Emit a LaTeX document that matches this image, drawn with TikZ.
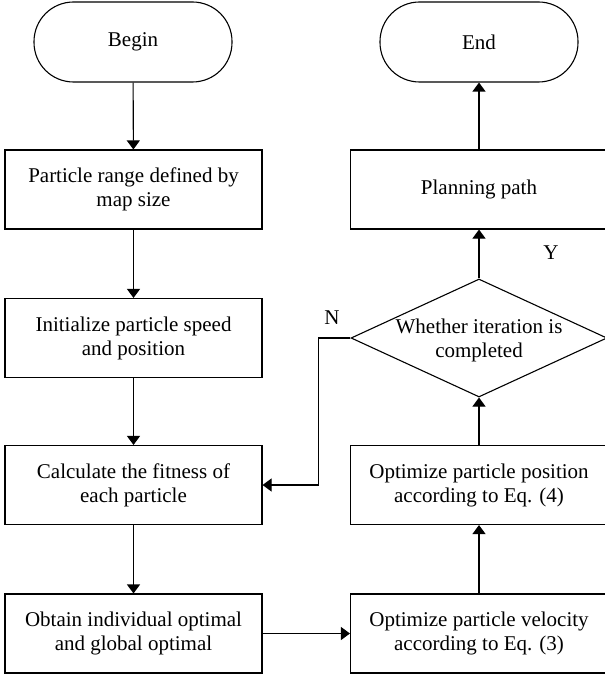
\documentclass[tikz,border=0pt]{standalone}
\usepackage{fontspec}
\setmainfont{Liberation Serif}
\usetikzlibrary{arrows.meta,shapes.geometric}

\begin{document}
\begin{tikzpicture}[x=1pt,y=-1pt,
  txt/.style={font=\fontsize{21}{24}\selectfont,align=center},
  box/.style={txt,draw,line width=1.1pt,minimum width=257pt,minimum height=79pt,inner sep=0pt},
  term/.style={txt,draw,line width=1.1pt,rounded corners=39.5pt,minimum width=198pt,minimum height=80pt},
  flow/.style={line width=1.1pt,-{Triangle[width=13pt,length=9pt]}}]
\useasboundingbox (0,0) rectangle (604,676);
% left column
\node[term] (begin) at (133,42)    {Begin};
\node[box]  (range) at (133.5,189.5) {Particle range defined by\\map size};
\node[box]  (init)  at (133.5,338) {Initialize particle speed\\and position};
\node[box]  (fit)   at (133.5,485) {Calculate the fitness of\\each particle};
\node[box]  (best)  at (133.5,633.5) {Obtain individual optimal\\and global optimal};
% right column
\node[box]  (vel)   at (479,633.5) {Optimize particle velocity\\according to Eq. (3)};
\node[box]  (pos)   at (479,485)   {Optimize particle position\\according to Eq. (4)};
\node[draw,line width=1.1pt,diamond,minimum width=256pt,minimum height=118pt,inner sep=0pt] (iter) at (479,338) {};
\node[txt] (itertxt) at (479,340) {Whether iteration is\\completed};
\node[box]  (plan)  at (479,189.5) {Planning path};
\node[term] (end)   at (479,42)    {End};
% labels
\node[txt] (ylab) at (551,253) {Y};
\node[txt] (nlab) at (332,318) {N};
% arrows
\draw[flow] (begin) -- (range);
\draw[flow] (range) -- (init);
\draw[flow] (init)  -- (fit);
\draw[flow] (fit)   -- (best);
\draw[flow] (best)  -- (vel);
\draw[flow] (vel)   -- (pos);
\draw[flow] (pos)   -- (iter.south);
\draw[flow] (iter.north) -- (plan);
\draw[flow] (plan)  -- (end);
\draw[flow] (iter.west) -- ++(-32,0) |- (fit.east);
\end{tikzpicture}
\end{document}
